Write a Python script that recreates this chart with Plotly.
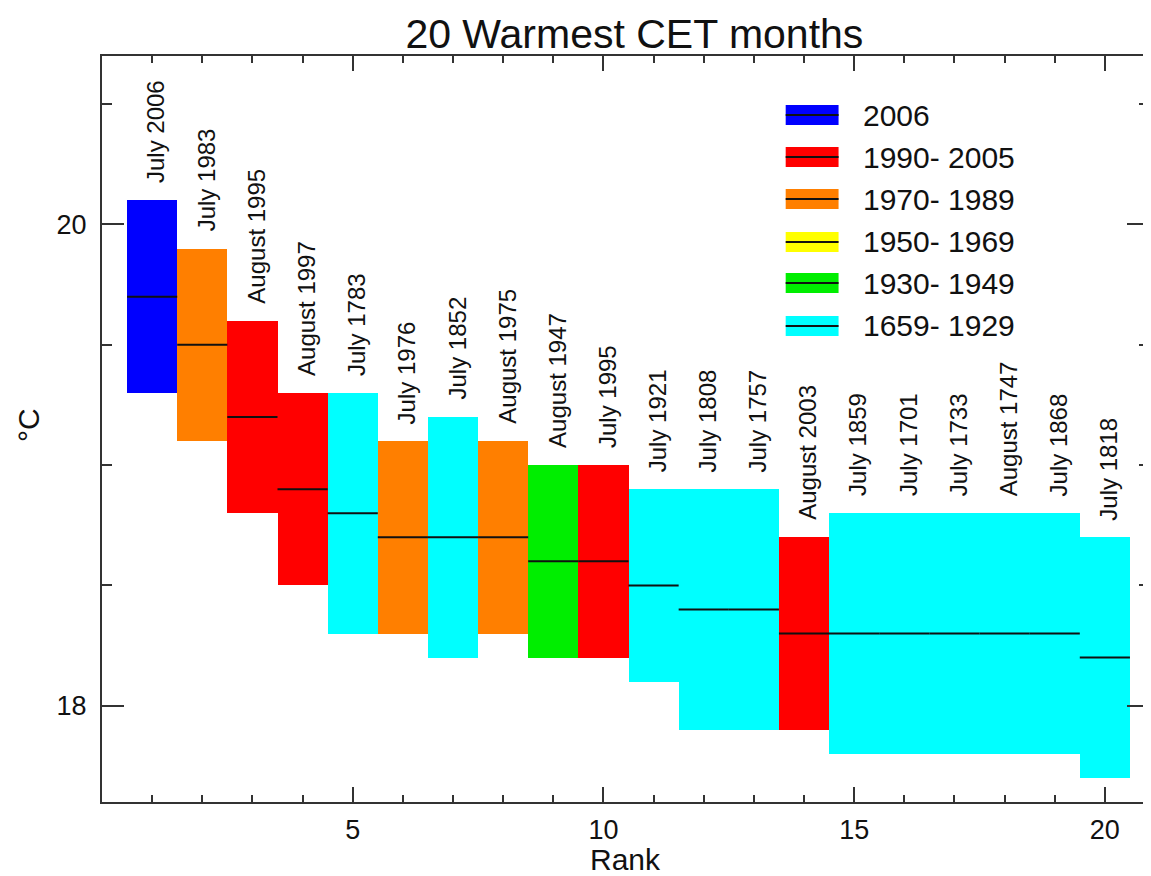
import plotly.graph_objects as go

# ---- data ----
months = ["July 2006", "July 1983", "August 1995", "August 1997", "July 1783",
          "July 1976", "July 1852", "August 1975", "August 1947", "July 1995",
          "July 1921", "July 1808", "July 1757", "August 2003", "July 1859",
          "July 1701", "July 1733", "August 1747", "July 1868", "July 1818"]
temps = [19.7, 19.5, 19.2, 18.9, 18.8, 18.7, 18.7, 18.7, 18.6, 18.6,
         18.5, 18.4, 18.4, 18.3, 18.3, 18.3, 18.3, 18.3, 18.3, 18.2]
uncert = [0.4, 0.4, 0.4, 0.4, 0.5, 0.4, 0.5, 0.4, 0.4, 0.4,
          0.4, 0.5, 0.5, 0.4, 0.5, 0.5, 0.5, 0.5, 0.5, 0.5]
ranks = list(range(1, len(months) + 1))

period_labels = ["2006", "1990- 2005", "1970- 1989", "1950- 1969", "1930- 1949", "1659- 1929"]
period_start = [2006, 1990, 1970, 1950, 1930, 1659]
period_colors = ["#0000FF", "#FF0000", "#FF7F00", "#FFFF00", "#00EE00", "#00FFFF"]

tick_x = [5, 10, 15, 20]
tick_y = [18, 20]


def colour_for(label):
    year = int(label.split()[-1])
    for start, col in zip(period_start, period_colors):
        if year >= start:
            return col
    return period_colors[-1]


bar_colors = [colour_for(m) for m in months]
FONT = "Liberation Sans, Arial"
TXT = "#111111"

fig = go.Figure()

# uncertainty boxes
fig.add_trace(go.Bar(
    x=ranks,
    y=[2 * u for u in uncert],
    base=[t - u for t, u in zip(temps, uncert)],
    width=1,
    marker=dict(color=bar_colors, line=dict(width=0)),
    showlegend=False,
    hoverinfo="skip",
))

# central value lines
lx, ly = [], []
for r, t in zip(ranks, temps):
    lx += [r - 0.5, r + 0.5, None]
    ly += [t, t, None]
fig.add_trace(go.Scatter(x=lx, y=ly, mode="lines",
                         line=dict(color=TXT, width=2),
                         showlegend=False, hoverinfo="skip"))

# month labels above boxes
for r, t, u, m in zip(ranks, temps, uncert, months):
    fig.add_annotation(x=r, y=t + u, text=m, textangle=-90,
                       xanchor="center", yanchor="bottom",
                       xshift=4, yshift=15, showarrow=False,
                       font=dict(family=FONT, size=24, color=TXT))

# legend (drawn in paper coordinates)
row_y = [0.9209, 0.8646, 0.8083, 0.7507, 0.6957, 0.6381]
for yy, lab, col in zip(row_y, period_labels, period_colors):
    fig.add_shape(type="rect", xref="paper", yref="paper",
                  x0=0.653, x1=0.7035, y0=yy - 0.0134, y1=yy + 0.0134,
                  fillcolor=col, line=dict(width=0))
    fig.add_shape(type="line", xref="paper", yref="paper",
                  x0=0.653, x1=0.7035, y0=yy, y1=yy,
                  line=dict(color=TXT, width=2))
    fig.add_annotation(xref="paper", yref="paper", x=0.7245, y=yy, text=lab,
                       xanchor="left", yanchor="middle", showarrow=False,
                       font=dict(family=FONT, size=30, color=TXT))

# axis titles
fig.add_annotation(xref="paper", yref="paper", x=0.5, y=-0.077, text="Rank",
                   xanchor="center", yanchor="middle", showarrow=False,
                   font=dict(family=FONT, size=30, color=TXT))
fig.add_annotation(xref="paper", yref="paper", x=-0.0885, y=0.505, text="°C",
                   textangle=-90, xanchor="left", yanchor="middle", showarrow=False,
                   font=dict(family=FONT, size=30, color=TXT))

axis_common = dict(showline=True, linewidth=2, linecolor="#333333", mirror="ticks",
                   ticks="inside", tickwidth=2, tickcolor="#333333",
                   showgrid=False, zeroline=False,
                   tickfont=dict(family=FONT, size=27, color=TXT))

fig.update_xaxes(range=[0, 20.88], tickmode="array", tickvals=tick_x, ticklen=15,
                 minor=dict(tick0=0, dtick=1, ticks="inside", ticklen=7,
                            tickwidth=2, tickcolor="#333333"),
                 ticklabelstandoff=3, **axis_common)
fig.update_yaxes(range=[17.6, 20.7], tickmode="array", tickvals=tick_y, ticklen=22,
                 minor=dict(tick0=18, dtick=0.5, ticks="inside", ticklen=10,
                            tickwidth=2, tickcolor="#333333"),
                 ticklabelstandoff=8, **axis_common)

# page body has an 8px margin: size the figure to fit the 1151x876 window
fig.update_layout(
    width=1143, height=868,
    margin=dict(l=94, r=0, t=48, b=74),
    plot_bgcolor="white", paper_bgcolor="white",
    title=dict(text="20 Warmest CET months", x=0.548, xanchor="center",
               y=0.954, yanchor="bottom",
               font=dict(family=FONT, size=41, color=TXT)),
    bargap=0,
    showlegend=False,
)

fig.write_html("out.html")
